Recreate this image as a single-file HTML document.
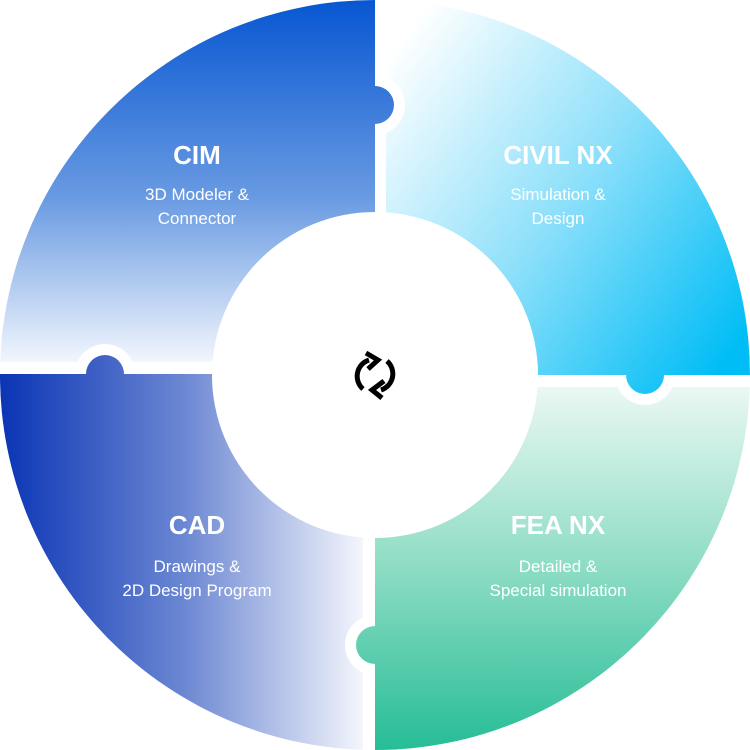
<!DOCTYPE html>
<html><head><style>
html,body{margin:0;padding:0;background:#fff;width:750px;height:750px;overflow:hidden}
text{font-family:"Liberation Sans",sans-serif;fill:#fff}
</style></head><body>
<svg width="750" height="750" viewBox="0 0 750 750" xmlns="http://www.w3.org/2000/svg">
<defs>
<clipPath id="c"><circle cx="375" cy="375" r="375"/></clipPath>
<linearGradient id="gTL" gradientUnits="userSpaceOnUse" x1="0" y1="0" x2="0" y2="362"><stop offset="0" stop-color="#0756d2"/><stop offset="0.55" stop-color="#6a9be2"/><stop offset="1" stop-color="#f2f6fd"/></linearGradient>
<linearGradient id="gTR" gradientUnits="userSpaceOnUse" x1="386" y1="60" x2="750" y2="330"><stop offset="0" stop-color="#ffffff"/><stop offset="0.5" stop-color="#8ee0fa"/><stop offset="1" stop-color="#00bdf6"/></linearGradient>
<linearGradient id="gBR" gradientUnits="userSpaceOnUse" x1="0" y1="387" x2="0" y2="750"><stop offset="0" stop-color="#eaf8f3"/><stop offset="0.5" stop-color="#8ddcc4"/><stop offset="1" stop-color="#26bd96"/></linearGradient>
<linearGradient id="gBL" gradientUnits="userSpaceOnUse" x1="0" y1="0" x2="363" y2="0"><stop offset="0" stop-color="#0a34b5"/><stop offset="0.5" stop-color="#6a86d2"/><stop offset="1" stop-color="#f4f6fc"/></linearGradient>
</defs>
<g clip-path="url(#c)">
<rect x="0" y="0" width="375" height="362" fill="url(#gTL)"/>
<rect x="386" y="0" width="364" height="375" fill="url(#gTR)"/>
<rect x="375" y="387" width="375" height="363" fill="url(#gBR)"/>
<rect x="0" y="374" width="363" height="376" fill="url(#gBL)"/>
</g>
<path d="M375 75 A30 30 0 0 1 375 135 Z" fill="#fff"/>
<path d="M675 375 A30 30 0 0 1 615 375 Z" fill="#fff"/>
<path d="M75 374 A30 30 0 0 1 135 374 Z" fill="#fff"/>
<path d="M375 675 A30 30 0 0 1 375 615 Z" fill="#fff"/>
<circle cx="375" cy="105" r="19" fill="url(#gTL)"/>
<circle cx="645" cy="375" r="19" fill="url(#gTR)"/>
<circle cx="105" cy="374" r="19" fill="url(#gBL)"/>
<circle cx="375" cy="645" r="19" fill="url(#gBR)"/>
<circle cx="375" cy="375" r="163" fill="#fff"/>
<g fill="none" stroke="#000" stroke-width="5">
<path d="M363 389 A17 17 0 0 1 369 360"/>
<path d="M387 361 A17 17 0 0 1 381 390"/>
<path d="M366 353 L378 360 L368 369"/>
<path d="M384 381 L372 390 L382 398"/>
</g>
<g text-anchor="middle">
<text x="197" y="164" font-size="26" font-weight="bold">CIM</text>
<text x="197" y="200" font-size="17">3D Modeler &amp;</text>
<text x="197" y="224" font-size="17">Connector</text>
<text x="558" y="164" font-size="26" font-weight="bold">CIVIL NX</text>
<text x="558" y="200" font-size="17">Simulation &amp;</text>
<text x="558" y="224" font-size="17">Design</text>
<text x="197" y="534" font-size="26" font-weight="bold">CAD</text>
<text x="197" y="572" font-size="17">Drawings &amp;</text>
<text x="197" y="596" font-size="17">2D Design Program</text>
<text x="558" y="534" font-size="26" font-weight="bold">FEA NX</text>
<text x="558" y="572" font-size="17">Detailed &amp;</text>
<text x="558" y="596" font-size="17">Special simulation</text>
</g>
</svg>
</body></html>
